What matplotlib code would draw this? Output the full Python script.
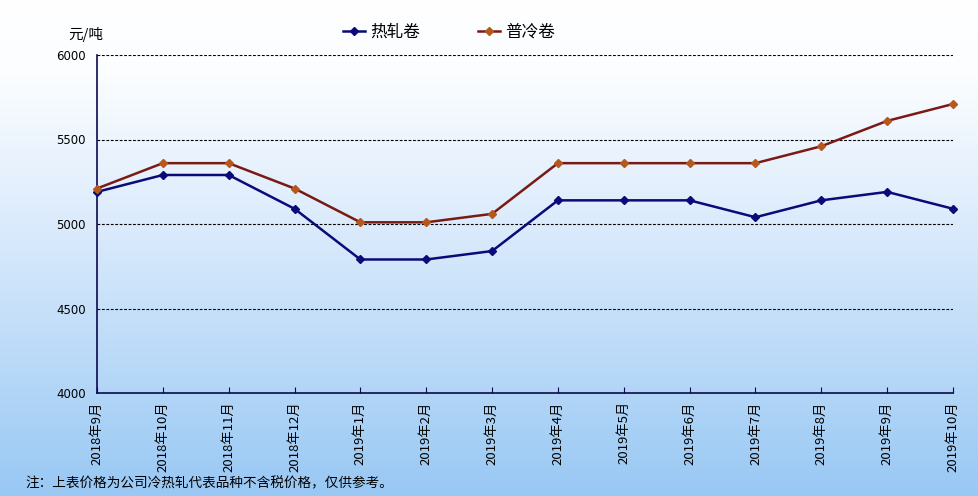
import numpy as np
import matplotlib
matplotlib.use("Agg")
import matplotlib.pyplot as plt
from matplotlib.colors import LinearSegmentedColormap

plt.rcParams['font.family'] = ['Noto Sans CJK SC', 'DejaVu Sans']

months = ["2018年9月", "2018年10月", "2018年11月", "2018年12月",
          "2019年1月", "2019年2月", "2019年3月", "2019年4月",
          "2019年5月", "2019年6月", "2019年7月", "2019年8月",
          "2019年9月", "2019年10月"]
hot_rolled = [5190, 5290, 5290, 5090, 4790, 4790, 4840,
              5140, 5140, 5140, 5040, 5140, 5190, 5090]
cold_rolled = [5210, 5360, 5360, 5210, 5010, 5010, 5060,
               5360, 5360, 5360, 5360, 5460, 5610, 5710]
y_ticks = [4000, 4500, 5000, 5500, 6000]

fig = plt.figure(figsize=(9.79, 4.96), dpi=100)

# background gradient over the whole figure
bg = fig.add_axes([0, 0, 1, 1], zorder=-10)
cmap = LinearSegmentedColormap.from_list(
    "bg", [(0.0, "#ffffff"), (0.15, "#fbfdff"), (0.5, "#d6e8fb"), (1.0, "#98c8f4")])
grad = np.linspace(0, 1, 256).reshape(-1, 1)
bg.imshow(grad, aspect="auto", cmap=cmap, extent=(0, 1, 0, 1))
bg.axis("off")

ax = fig.add_axes([97 / 979, 1 - 393 / 496, (953 - 97) / 979, (393 - 55) / 496])
ax.patch.set_alpha(0)

x = np.arange(len(months))
ax.plot(x, hot_rolled, color="#0a0a78", lw=1.8, marker="D", ms=4.5,
        mfc="#0a0a78", mec="#0a0a78", label="热轧卷", zorder=3, clip_on=False)
ax.plot(x, cold_rolled, color="#7a1a14", lw=1.8, marker="D", ms=4.5,
        mfc="#b5581e", mec="#b5581e", label="普冷卷", zorder=3, clip_on=False)

ax.set_xlim(0, len(months) - 1)
ax.set_ylim(4000, 6000)
ax.set_yticks(y_ticks)
ax.set_yticklabels([str(v) for v in y_ticks], fontsize=8.5, family="DejaVu Sans")
ax.set_xticks(x)
ax.set_xticklabels(months, rotation=90, fontsize=9.5, va="top")
ax.tick_params(axis="x", direction="in", length=4, color="#0a0a50", pad=6)
ax.tick_params(axis="y", length=0, pad=8)

for v in y_ticks[1:]:
    ax.axhline(v, color="black", lw=0.8, ls=(0, (2.5, 1.5)), zorder=1)

for s in ["top", "right"]:
    ax.spines[s].set_visible(False)
ax.spines["left"].set_color("#0a0a50")
ax.spines["bottom"].set_color("#0a0a50")
ax.spines["left"].set_linewidth(1.2)
ax.spines["bottom"].set_linewidth(1.2)

leg = fig.legend(loc="center", bbox_to_anchor=(449 / 979, 1 - 32 / 496), ncol=2,
                 frameon=False, fontsize=12, handlelength=1.3, columnspacing=3.5,
                 handletextpad=0.3)

fig.text(68 / 979, 1 - 35 / 496, "元/吨", fontsize=10.5, va="center", ha="left")
fig.text(25 / 979, 1 - 483 / 496, "注：上表价格为公司冷热轧代表品种不含税价格，仅供参考。",
         fontsize=9.8, va="center", ha="left")

fig.savefig("out.png", dpi=100)
